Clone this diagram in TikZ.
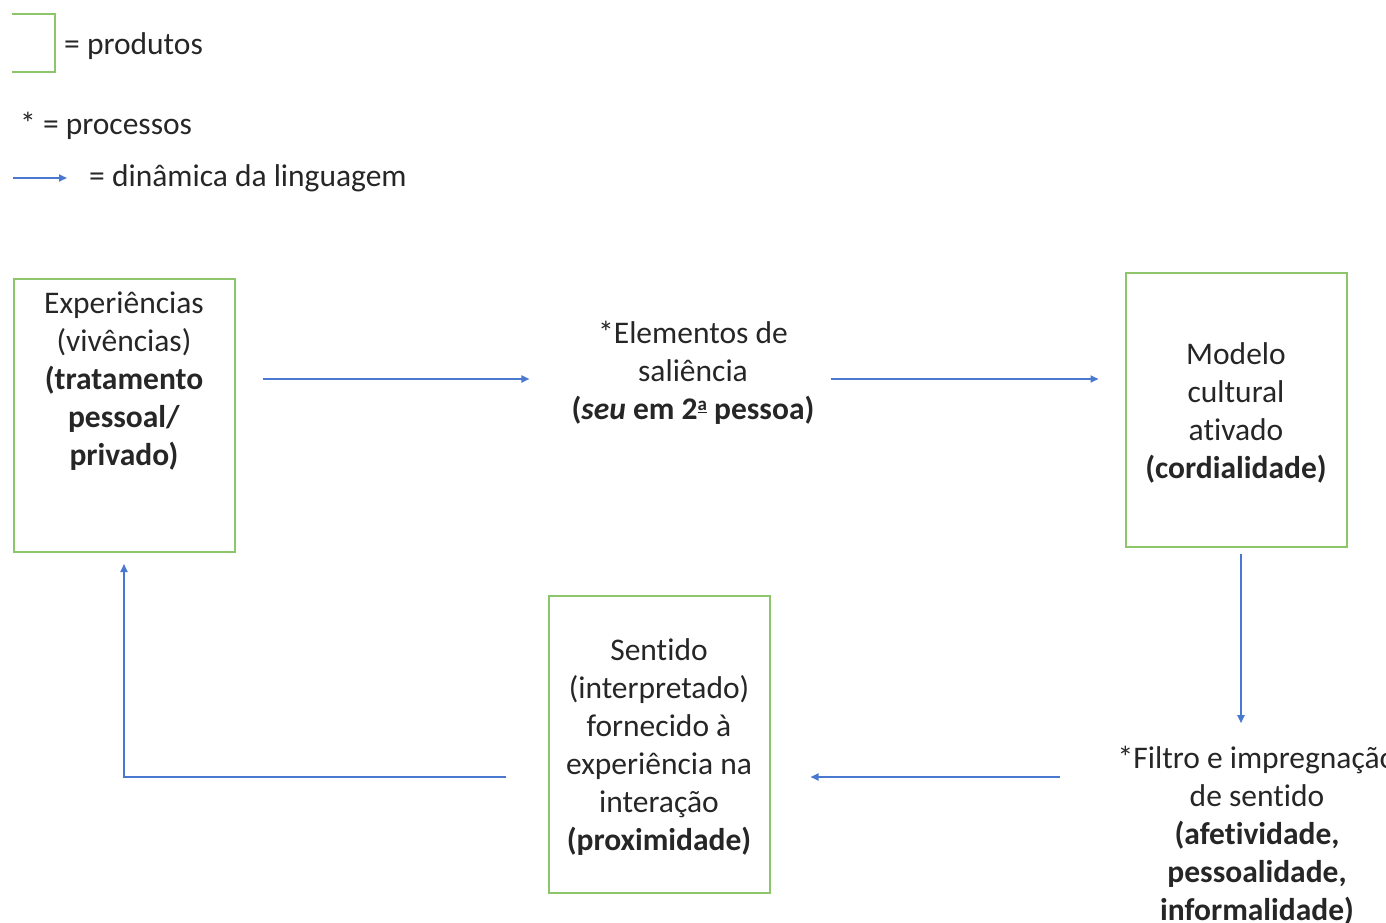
\documentclass[tikz,border=0pt]{standalone}
\usepackage{fontspec}
\setmainfont{Carlito}[Ligatures=NoCommon]
\usetikzlibrary{arrows.meta,calc}
\definecolor{boxgreen}{HTML}{8CC56A}
\definecolor{arrblue}{HTML}{4A78D0}
\definecolor{txt}{HTML}{262626}
\newcommand{\ordfem}{{\fontsize{19}{19}\selectfont\raisebox{9pt}{\underline{a}}}}
\tikzset{
  prodbox/.style={draw=boxgreen,line width=2pt,minimum width=221pt,inner sep=0pt},
  lbl/.style={align=center,inner sep=0pt,text=txt,font=\fontsize{31.5}{38}\selectfont},
  legtext/.style={anchor=west,inner sep=0pt,text=txt,font=\fontsize{31.5}{38}\selectfont},
  arr/.style={draw=arrblue,line width=1.8pt,-{Triangle[length=8pt,width=7pt]}}
}
\begin{document}
\begin{tikzpicture}[x=1pt,y=-1pt]
\useasboundingbox (0,0) rectangle (1386,923);
\clip (0,0) rectangle (1386,923);
% legend
\draw[boxgreen,line width=2pt] (12,14) -- (55,14) -- (55,72) -- (12,72);
\node[legtext] (lp) at (64,46) {= produtos};
\node[legtext] (lq) at (20,126) {* = processos};
\coordinate (la) at (13,178);
\coordinate (lb) at (67,178);
\draw[arr] (la) -- (lb);
\node[legtext] (ld) at (89,178) {= dinâmica da linguagem};
% boxes
\node[prodbox,minimum height=273pt] (b1) at (124,415.5) {};
\node[lbl] (t1) at ([yshift=34pt]b1.center) {Experiências\\(vivências)\\\textbf{(tratamento}\\\textbf{pessoal/}\\\textbf{privado)}};
\node[prodbox,minimum height=274pt] (b2) at (1236,410) {};
\node[lbl] (t2) at ([yshift=-3pt]b2.center) {Modelo\\cultural\\ativado\\\textbf{(cordialidade)}};
\node[prodbox,minimum height=297pt] (b3) at (659,744.5) {};
\node[lbl] (t3) at ([yshift=-3pt]b3.center) {Sentido\\(interpretado)\\fornecido à\\experiência na\\interação\\\textbf{(proximidade)}};
% process texts
\node[lbl] (p1) at (693,373) {*Elementos de\\saliência\\\textbf{(\textit{seu} em 2\ordfem{} pessoa)}};
\node[lbl] (p2) at (1257,836) {*Filtro e impregnação\\de sentido\\\textbf{(afetividade,}\\\textbf{pessoalidade,}\\\textbf{informalidade)}};
% connector levels
\coordinate (r1) at ([yshift=36.5pt]b1.east);
\coordinate (dn) at ([xshift=5pt]b2.south);
\coordinate (lv) at ([yshift=59pt]p2.west);
% connectors
\draw[arr,shorten <=27.5pt,shorten >=42pt] (r1) -- (p1.west |- r1);
\draw[arr,shorten <=16pt,shorten >=26pt] (p1.east |- r1) -- (b2.west |- r1);
\draw[arr,shorten <=6pt,shorten >=23pt] (dn) -- (dn |- p2.north);
\draw[arr,shorten <=58pt,shorten >=40pt] (lv) -- (lv -| b3.east);
\draw[arr,shorten <=41.5pt,shorten >=11pt] (lv -| b3.west) -| (b1.south);
\end{tikzpicture}
\end{document}
